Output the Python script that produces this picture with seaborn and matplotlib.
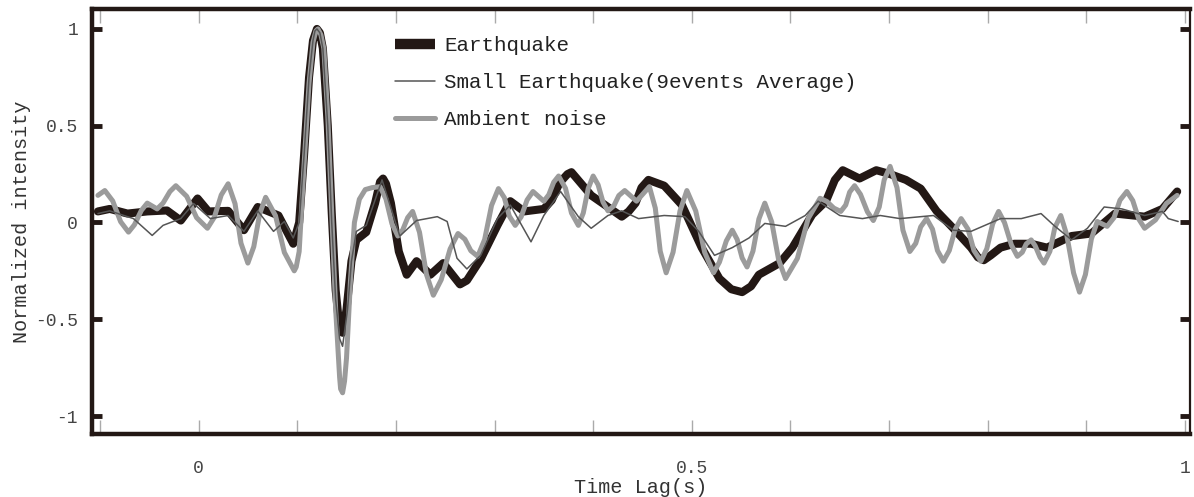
import numpy as np
import pandas as pd
import matplotlib
matplotlib.use("Agg")
import matplotlib.pyplot as plt
import seaborn as sns

# ---------------- data ----------------
eq_t = [-0.102, -0.090, -0.072, -0.052, -0.032, -0.018, -0.001, 0.010, 0.030, 0.046,
        0.060, 0.081, 0.096, 0.102, 0.107, 0.112, 0.116, 0.120, 0.123, 0.126, 0.131,
        0.135, 0.139, 0.143, 0.146, 0.150, 0.155, 0.160, 0.165, 0.170, 0.179,
        0.184, 0.187, 0.190, 0.195, 0.203, 0.211, 0.221, 0.235, 0.248, 0.265, 0.272,
        0.286, 0.303, 0.316, 0.330,
        0.350, 0.358, 0.366, 0.374, 0.378, 0.398, 0.429, 0.436, 0.443, 0.449, 0.456,
        0.472, 0.490, 0.510,
        0.528, 0.540, 0.551, 0.560, 0.568, 0.589, 0.602, 0.622, 0.636, 0.645, 0.653,
        0.670, 0.687,
        0.701, 0.717, 0.732, 0.748, 0.765, 0.783, 0.790, 0.796, 0.803, 0.813, 0.827,
        0.844, 0.860, 0.885, 0.905, 0.929, 0.959, 0.977, 0.992]
eq_v = [0.057, 0.07, 0.046, 0.057, 0.062, 0.01, 0.124, 0.057, 0.06, -0.04,
        0.08, 0.036, -0.11, 0.0, 0.35, 0.75, 0.94, 1.00, 0.98, 0.90, 0.50,
        0.05, -0.35, -0.55, -0.57, -0.45, -0.20, -0.09, -0.07, -0.05, 0.10,
        0.21, 0.227, 0.20, 0.10, -0.15, -0.27, -0.20, -0.27, -0.21, -0.32, -0.30,
        -0.19, -0.015, 0.11, 0.057,
        0.07, 0.115, 0.205, 0.25, 0.26, 0.14, 0.03, 0.057, 0.10, 0.18, 0.22,
        0.19, 0.09, -0.13,
        -0.29, -0.345, -0.36, -0.33, -0.27, -0.21, -0.13, 0.04, 0.11, 0.22, 0.27,
        0.227, 0.27,
        0.25, 0.22, 0.175, 0.06, -0.03, -0.13, -0.18, -0.195, -0.17, -0.13, -0.11,
        -0.11, -0.13, -0.07, -0.057, 0.046, 0.03, 0.07, 0.16]

small_t = [-0.102, -0.090, -0.066, -0.047, -0.036, -0.018, -0.005, 0.012, 0.030, 0.046,
           0.060, 0.076, 0.087, 0.096, 0.102, 0.107, 0.112, 0.116, 0.118, 0.120, 0.123,
           0.126, 0.131, 0.135, 0.139, 0.143, 0.146, 0.151, 0.155, 0.160, 0.170, 0.186,
           0.204, 0.221, 0.242, 0.252, 0.262, 0.272, 0.286, 0.303, 0.316, 0.337,
           0.350, 0.367, 0.385, 0.398, 0.415, 0.429, 0.446, 0.472, 0.493, 0.507,
           0.523, 0.541, 0.558, 0.574, 0.595, 0.615, 0.628, 0.650, 0.673, 0.691,
           0.711, 0.745, 0.765, 0.783, 0.813, 0.834, 0.854, 0.867, 0.885, 0.901,
           0.918, 0.936, 0.959, 0.977, 0.983, 0.993]
small_v = [0.046, 0.06, 0.02, -0.067, -0.015, 0.02, 0.098, 0.02, 0.036, -0.046,
           0.06, -0.046, 0.005, -0.08, 0.0, 0.35, 0.75, 0.94, 0.99, 1.00, 0.98,
           0.90, 0.50, 0.0, -0.40, -0.60, -0.64, -0.45, -0.20, -0.046, -0.015, 0.22,
           -0.07, 0.01, 0.03, 0.005, -0.185, -0.24, -0.17, 0.02, 0.09, -0.10,
           0.036, 0.16, 0.03, -0.03, 0.036, 0.06, 0.02, 0.036, 0.03, -0.046,
           -0.17, -0.13, -0.08, -0.005, -0.02, 0.036, 0.11, 0.036, 0.02, 0.036,
           0.02, 0.036, -0.04, -0.046, 0.02, 0.02, 0.046, -0.015, -0.09, -0.03,
           0.08, 0.07, 0.036, 0.057, 0.02, 0.005]

amb_t = [-0.102, -0.095, -0.087, -0.079, -0.071, -0.065, -0.058, -0.052, -0.042, -0.036,
         -0.029, -0.023, -0.012, -0.002, 0.009, 0.016, 0.023, 0.030, 0.037, 0.043,
         0.050, 0.056, 0.062, 0.068, 0.078, 0.087, 0.097, 0.099, 0.102, 0.107,
         0.112, 0.116, 0.119, 0.121, 0.124, 0.127, 0.131, 0.135, 0.139, 0.143,
         0.144, 0.146, 0.148, 0.150, 0.154, 0.158, 0.163, 0.169, 0.176, 0.184,
         0.190, 0.196, 0.202, 0.207, 0.212, 0.217, 0.224, 0.231, 0.238, 0.246,
         0.255, 0.263, 0.270, 0.276, 0.283, 0.290, 0.297, 0.304, 0.310, 0.315,
         0.321, 0.327, 0.333, 0.339, 0.350, 0.355, 0.360, 0.365, 0.372, 0.378,
         0.385, 0.390, 0.395, 0.400, 0.405, 0.410, 0.415, 0.421, 0.426, 0.432,
         0.444, 0.457, 0.463, 0.468, 0.474, 0.481, 0.488, 0.495, 0.504, 0.513,
         0.522, 0.528, 0.535, 0.541, 0.546, 0.551, 0.556, 0.562, 0.568, 0.574,
         0.581, 0.588, 0.595, 0.607, 0.618, 0.630, 0.637, 0.644, 0.651, 0.656,
         0.660, 0.665, 0.671, 0.678, 0.684, 0.690, 0.695, 0.701, 0.708, 0.714,
         0.721, 0.727, 0.732, 0.738, 0.744, 0.749, 0.755, 0.761, 0.767, 0.773,
         0.780, 0.786, 0.793, 0.799, 0.805, 0.811, 0.817, 0.824, 0.830, 0.835,
         0.839, 0.844, 0.848, 0.853, 0.857, 0.863, 0.868, 0.874, 0.880, 0.887,
         0.893, 0.899, 0.905, 0.911, 0.921, 0.928, 0.934, 0.941, 0.947, 0.953,
         0.959, 0.970, 0.981, 0.992]
amb_v = [0.14, 0.165, 0.111, 0.004, -0.05, -0.012, 0.062, 0.10, 0.07, 0.10,
         0.16, 0.19, 0.135, 0.025, -0.03, 0.027, 0.142, 0.20, 0.097, -0.107,
         -0.21, -0.125, 0.045, 0.13, 0.035, -0.155, -0.25, -0.23, -0.15, 0.30,
         0.72, 0.93, 0.99, 1.00, 0.97, 0.90, 0.55, 0.05, -0.45, -0.80,
         -0.86, -0.88, -0.82, -0.70, -0.30, 0.00, 0.12, 0.17, 0.18, 0.185,
         0.121, -0.006, -0.07, -0.038, 0.025, 0.057, -0.051, -0.268, -0.376, -0.296,
         -0.137, -0.057, -0.087, -0.146, -0.175, -0.088, 0.088, 0.175, 0.128, 0.033,
         -0.015, 0.029, 0.116, 0.16, 0.11, 0.143, 0.208, 0.24, 0.176, 0.049,
         -0.015, 0.049, 0.176, 0.24, 0.195, 0.105, 0.06, 0.086, 0.139, 0.165,
         0.11, 0.185, 0.074, -0.149, -0.26, -0.154, 0.059, 0.165, 0.059, -0.154,
         -0.26, -0.205, -0.095, -0.04, -0.088, -0.183, -0.23, -0.148, 0.018, 0.10,
         0.003, -0.193, -0.29, -0.186, 0.021, 0.125, 0.108, 0.074, 0.057, 0.09,
         0.157, 0.19, 0.145, 0.055, 0.01, 0.08, 0.22, 0.29, 0.18, -0.04,
         -0.15, -0.108, -0.023, 0.02, -0.035, -0.145, -0.20, -0.145, -0.035, 0.02,
         -0.035, -0.145, -0.20, -0.136, -0.007, 0.057, -0.001, -0.117, -0.175, -0.154,
         -0.111, -0.09, -0.12, -0.18, -0.21, -0.149, -0.026, 0.036, -0.063, -0.261,
         -0.36, -0.269, -0.086, 0.005, -0.02, 0.025, 0.115, 0.16, 0.113, 0.018,
         -0.03, 0.013, 0.098, 0.14]

series_names = ["Earthquake", "Small Earthquake(9events Average)", "Ambient noise"]
x_ticks = [0, 0.5, 1]
x_tick_labels = ["0", "0.5", "1"]
y_ticks = [-1, -0.5, 0, 0.5, 1]
y_tick_labels = ["-1", "-0.5", "0", "0.5", "1"]

# ---------------- plotting ----------------
sns.set_style("white")
plt.rcParams["font.family"] = ["Liberation Mono", "DejaVu Sans Mono", "DejaVu Sans"]

fig = plt.figure(figsize=(11.94, 4.97), dpi=100)
ax = fig.add_axes([92 / 1194, 1 - 434 / 497, (1190 - 92) / 1194, (434 - 9) / 497])

df_eq = pd.DataFrame({"t": eq_t, "v": eq_v})
df_small = pd.DataFrame({"t": small_t, "v": small_v})
df_amb = pd.DataFrame({"t": amb_t, "v": amb_v})

black = "#231815"
thin = "#555555"
grey = "#9b9b9b"

sns.lineplot(data=df_eq, x="t", y="v", ax=ax, color=black, lw=5.8,
             solid_joinstyle="round", solid_capstyle="round", label=series_names[0],
             estimator=None, sort=False, zorder=2)
sns.lineplot(data=df_amb, x="t", y="v", ax=ax, color=grey, lw=3.6,
             solid_joinstyle="round", solid_capstyle="round", label=series_names[2],
             estimator=None, sort=False, zorder=3)
sns.lineplot(data=df_small, x="t", y="v", ax=ax, color=thin, lw=1.1,
             solid_joinstyle="round", label=series_names[1],
             estimator=None, sort=False, zorder=4)

ax.set_xlim(-0.108, 1.005)
ax.set_ylim(-1.093, 1.103)

ax.set_xticks(x_ticks)
ax.set_xticklabels(x_tick_labels)
ax.set_xticks(np.round(np.arange(-0.1, 1.001, 0.1), 2), minor=True)
ax.set_yticks(y_ticks)
ax.set_yticklabels(y_tick_labels)

ax.tick_params(axis="x", which="both", direction="in", length=10, width=1.0,
               color="#aaaaaa", top=True, bottom=True, labelsize=13,
               labelcolor="#444444", pad=19)
ax.tick_params(axis="y", which="major", direction="in", length=7, width=3.5,
               color=black, left=True, right=True, labelsize=13,
               labelcolor="#444444", pad=10)

for side in ["left", "bottom", "top"]:
    ax.spines[side].set_linewidth(3.2)
    ax.spines[side].set_color(black)
ax.spines["right"].set_linewidth(1.6)
ax.spines["right"].set_color(black)

ax.set_xlabel("Time Lag(s)", fontsize=14.5, color="#333333", va="center")
ax.xaxis.set_label_coords(0.5, (434 - 488) / 425)
ax.set_ylabel("Normalized intensity", fontsize=14.5, color="#333333", labelpad=3)

handles, labels = ax.get_legend_handles_labels()
order = [labels.index(n) for n in series_names]
leg = ax.legend([handles[i] for i in order], [labels[i] for i in order],
                loc="upper left", bbox_to_anchor=(0.276, 0.936), frameon=False,
                borderpad=0, borderaxespad=0, handlelength=1.9, handletextpad=0.45,
                labelspacing=0.86, prop={"size": 15})
leg.get_lines()[0].set_linewidth(7.5)
leg.get_lines()[0].set_solid_capstyle("butt")
for t in leg.get_texts():
    t.set_color("#222222")

fig.savefig("out.png", dpi=100)
